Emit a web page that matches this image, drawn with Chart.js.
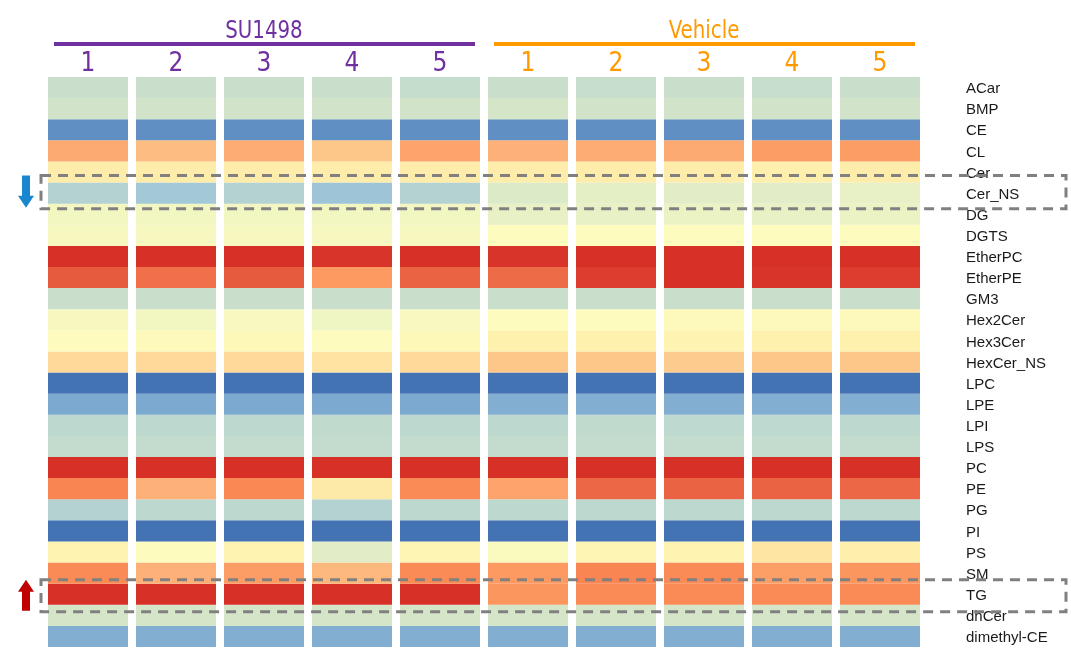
<!DOCTYPE html>
<html>
<head>
<meta charset="utf-8">
<title>Lipid class heatmap</title>
<script src="https://cdn.jsdelivr.net/npm/chart.js"></script>
<style>
  html, body { margin: 0; padding: 0; background: #fff; overflow: hidden; }
  canvas { display: block; }
</style>
</head>
<body>
<canvas id="heat" width="1071" height="648"></canvas>
<script>
const lipids = ['ACar','BMP','CE','CL','Cer','Cer_NS','DG','DGTS','EtherPC','EtherPE','GM3','Hex2Cer','Hex3Cer','HexCer_NS','LPC','LPE','LPI','LPS','PC','PE','PG','PI','PS','SM','TG','dhCer','dimethyl-CE'];
const groups = ['SU1498', 'Vehicle'];
const samples = ['1', '2', '3', '4', '5'];

// row z-scores, samples 1-5
const su1498 = [
  [-0.6, -0.6, -0.6, -0.6, -0.75],
  [-0.4, -0.4, -0.4, -0.4, -0.4],
  [-2.6, -2.6, -2.6, -2.6, -2.6],
  [1.9, 1.65, 1.85, 1.5, 2.0],
  [0.9, 0.9, 0.9, 0.9, 0.9],
  [-1.2, -1.5, -1.2, -1.6, -1.2],
  [0.2, 0.2, 0.2, 0.2, 0.2],
  [0.3, 0.3, 0.3, 0.3, 0.3],
  [3.5, 3.5, 3.5, 3.45, 3.5],
  [3.0, 2.75, 3.0, 2.2, 2.9],
  [-0.55, -0.55, -0.55, -0.55, -0.55],
  [0.3, 0.2, 0.35, 0.15, 0.35],
  [0.5, 0.55, 0.6, 0.5, 0.6],
  [1.25, 1.25, 1.25, 1.1, 1.25],
  [-3, -3, -3, -3, -3],
  [-2.05, -2.05, -2.05, -2.05, -2.05],
  [-1.0, -1.0, -1.0, -0.9, -1.0],
  [-0.8, -0.8, -0.8, -0.8, -0.8],
  [3.5, 3.5, 3.5, 3.5, 3.5],
  [2.5, 1.8, 2.45, 0.95, 2.4],
  [-1.2, -1.0, -1.0, -1.2, -1.0],
  [-3, -3, -3, -3, -3],
  [0.75, 0.5, 0.75, -0.1, 0.7],
  [2.4, 1.8, 2.15, 1.7, 2.4],
  [3.5, 3.5, 3.5, 3.5, 3.5],
  [-0.3, -0.3, -0.3, -0.3, -0.3],
  [-1.95, -1.95, -1.95, -1.95, -1.95]
];
const vehicle = [
  [-0.55, -0.65, -0.55, -0.65, -0.55],
  [-0.3, -0.4, -0.4, -0.4, -0.4],
  [-2.6, -2.6, -2.6, -2.6, -2.6],
  [1.8, 1.85, 1.9, 2.15, 2.15],
  [0.9, 0.9, 0.9, 0.85, 0.9],
  [-0.2, -0.05, -0.1, -0.1, 0.0],
  [0.0, 0.0, 0.05, 0.0, 0.05],
  [0.5, 0.5, 0.5, 0.5, 0.5],
  [3.45, 3.5, 3.5, 3.5, 3.5],
  [2.8, 3.35, 3.5, 3.45, 3.35],
  [-0.6, -0.55, -0.55, -0.55, -0.55],
  [0.5, 0.5, 0.55, 0.55, 0.55],
  [0.8, 0.8, 0.75, 0.8, 0.8],
  [1.5, 1.5, 1.45, 1.5, 1.5],
  [-3, -3, -3, -3, -3],
  [-1.95, -1.95, -1.95, -1.95, -1.95],
  [-1.0, -0.9, -0.95, -0.95, -1.0],
  [-0.8, -0.8, -0.8, -0.8, -0.8],
  [3.5, 3.5, 3.5, 3.5, 3.5],
  [2.0, 2.85, 2.9, 2.9, 2.85],
  [-1.0, -1.0, -1.0, -1.0, -1.0],
  [-3, -3, -3, -3, -3],
  [0.45, 0.7, 0.75, 1.05, 0.85],
  [2.2, 2.5, 2.4, 2.1, 2.25],
  [2.25, 2.4, 2.4, 2.4, 2.4],
  [-0.3, -0.3, -0.3, -0.3, -0.3],
  [-1.95, -1.95, -1.95, -1.95, -1.95]
];
// highlighted classes: down in SU1498 (blue arrow), up in SU1498 (red arrow)
const marked = [['Cer_NS', 'down'], ['TG', 'up']];

const PURPLE = '#7030a0';
const ORANGE = '#ff9900';
const NARROW = "'Liberation Sans Narrow', 'DejaVu Sans Condensed', 'Roboto', sans-serif";
// how far each dashed box reaches above / below its row, px
const BOX_PAD = { down: [7, 5], up: [4, 7] };

// colour scale
const stops = [
  [-3.0, '#4473b4'], [-2.6, '#6090c3'], [-2.0, '#7eabd1'], [-1.6, '#9dc5d7'],
  [-1.2, '#b4d2d1'], [-1.0, '#bcd8cf'], [-0.8, '#c4dccd'], [-0.55, '#cadfcb'],
  [-0.3, '#d5e6c8'], [0.0, '#e8f1c6'], [0.2, '#f2f7c2'], [0.5, '#fdfbbd'],
  [0.8, '#fef1ae'], [1.1, '#fee3a2'], [1.25, '#fed99a'], [1.5, '#fdc78a'],
  [1.8, '#fdb077'], [2.0, '#fca46c'], [2.2, '#fc9a62'], [2.4, '#fa8b56'],
  [2.6, '#f77f4f'], [2.8, '#ee6b47'], [3.0, '#e65b3e'], [3.5, '#d73027']
];
function hex(c) { return [1, 3, 5].map(i => parseInt(c.substr(i, 2), 16)); }
function colour(v) {
  if (v <= stops[0][0]) return stops[0][1];
  for (let i = 1; i < stops.length; i++) {
    if (v <= stops[i][0]) {
      const [v0, c0] = stops[i - 1], [v1, c1] = stops[i];
      const t = (v - v0) / (v1 - v0);
      const a = hex(c0), b = hex(c1);
      return 'rgb(' + a.map((x, k) => Math.round(x + (b[k] - x) * t)).join(',') + ')';
    }
  }
  return stops[stops.length - 1][1];
}

const colLabels = samples.concat(samples);
const datasets = lipids.map((name, r) => ({
  label: name,
  data: colLabels.map(() => 1),
  backgroundColor: su1498[r].concat(vehicle[r]).map(colour),
  stack: 'heat',
  borderWidth: 0,
  barPercentage: 80 / 88,
  categoryPercentage: 1
}));

const overlay = {
  id: 'overlay',
  afterDraw(chart) {
    const ctx = chart.ctx, x = chart.scales.x, y = chart.scales.y;
    const step = x.getPixelForValue(1) - x.getPixelForValue(0);
    ctx.save();
    // group titles and brackets
    groups.forEach((g, gi) => {
      const first = gi * samples.length, last = first + samples.length - 1;
      const l = x.getPixelForValue(first) - step / 2 + 10;
      const r = x.getPixelForValue(last) + step / 2 - 9;
      const c = (x.getPixelForValue(first) + x.getPixelForValue(last)) / 2;
      ctx.fillStyle = ctx.strokeStyle = gi === 0 ? PURPLE : ORANGE;
      ctx.font = '25px ' + NARROW;
      ctx.textAlign = 'center';
      ctx.textBaseline = 'alphabetic';
      ctx.save();
      ctx.translate(c, 38);
      ctx.scale(0.88, 1);
      ctx.fillText(g, 0, 0);
      ctx.restore();
      ctx.lineWidth = 4;
      ctx.beginPath();
      ctx.moveTo(l, 44);
      ctx.lineTo(r, 44);
      ctx.stroke();
    });
    // dashed boxes and arrows
    marked.forEach(([name, dir]) => {
      const i = lipids.indexOf(name);
      const top = y.getPixelForValue(i) - BOX_PAD[dir][0];
      const bot = y.getPixelForValue(i + 1) + BOX_PAD[dir][1];
      const left = chart.chartArea.left - 3;
      ctx.strokeStyle = '#808080';
      ctx.lineWidth = 3;
      ctx.setLineDash([10, 7]);
      ctx.strokeRect(left, top, chart.width - 5 - left, bot - top);
      ctx.setLineDash([]);
      const cx = 26, a0 = top, a1 = bot - 1, head = 12, sh = 4, hw = 8;
      ctx.fillStyle = dir === 'down' ? '#1a86d0' : '#c00000';
      ctx.beginPath();
      if (dir === 'down') {
        ctx.moveTo(cx - sh, a0); ctx.lineTo(cx + sh, a0); ctx.lineTo(cx + sh, a1 - head);
        ctx.lineTo(cx + hw, a1 - head); ctx.lineTo(cx, a1); ctx.lineTo(cx - hw, a1 - head);
        ctx.lineTo(cx - sh, a1 - head);
      } else {
        ctx.moveTo(cx - sh, a1); ctx.lineTo(cx + sh, a1); ctx.lineTo(cx + sh, a0 + head);
        ctx.lineTo(cx + hw, a0 + head); ctx.lineTo(cx, a0); ctx.lineTo(cx - hw, a0 + head);
        ctx.lineTo(cx - sh, a0 + head);
      }
      ctx.closePath();
      ctx.fill();
    });
    ctx.restore();
  }
};

new Chart(document.getElementById('heat'), {
  type: 'bar',
  data: { labels: colLabels, datasets: datasets },
  options: {
    responsive: false,
    animation: false,
    layout: { padding: { left: 44, right: 0, top: 0, bottom: 1 } },
    plugins: { legend: { display: false }, tooltip: { enabled: false } },
    scales: {
      x: {
        position: 'top',
        stacked: true,
        grid: { display: false, drawTicks: false },
        border: { display: false },
        ticks: {
          padding: 0,
          font: { family: NARROW, size: 26, lineHeight: 1 },
          color: c => c.index < samples.length ? PURPLE : ORANGE
        },
        afterFit: s => { s.height = 77; }
      },
      y: { stacked: true, min: 0, max: lipids.length, reverse: true, display: false },
      y2: {
        type: 'category',
        labels: lipids,
        position: 'right',
        offset: true,
        grid: { display: false, drawTicks: false },
        border: { display: false },
        ticks: {
          autoSkip: false,
          padding: 42,
          labelOffset: 1.5,
          font: { family: "'Liberation Sans', Arial, sans-serif", size: 15 },
          color: '#1a1a1a'
        },
        afterFit: s => { s.width = 147; s.paddingTop = 0; s.paddingBottom = 0; }
      }
    }
  },
  plugins: [overlay]
});
</script>
</body>
</html>
